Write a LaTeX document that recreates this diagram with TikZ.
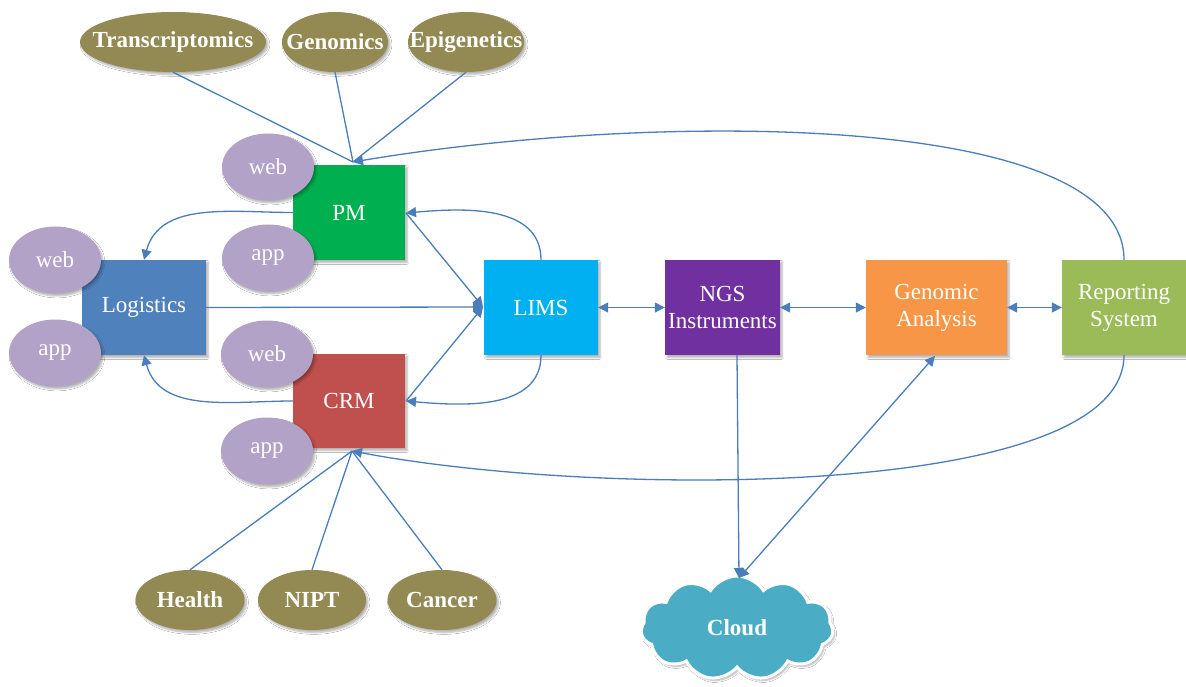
\documentclass[tikz,border=0pt]{standalone}
\usepackage{fontspec}
\setmainfont{Liberation Serif}
\usetikzlibrary{shapes.geometric,shapes.symbols,arrows.meta,shadows.blur}
\definecolor{cPM}{HTML}{00B050}
\definecolor{cLog}{HTML}{4F81BD}
\definecolor{cCRM}{HTML}{C0504D}
\definecolor{cLIMS}{HTML}{00B0F0}
\definecolor{cNGS}{HTML}{7030A0}
\definecolor{cGA}{HTML}{F79646}
\definecolor{cRS}{HTML}{9BBB59}
\definecolor{cPur}{HTML}{B3A2C7}
\definecolor{cOli}{HTML}{938953}
\definecolor{cCloud}{HTML}{4BACC6}
\definecolor{cLine}{HTML}{4A7EBB}
\begin{document}
\begin{tikzpicture}[x=1pt,y=-1pt,
  shd/.style={blur shadow={shadow xshift=2pt,shadow yshift=-2.5pt,shadow blur steps=6,shadow opacity=30}},
  box/.style={rectangle,draw=none,inner sep=0pt,text=white,align=center,shd,
    font=\fontsize{23}{27}\selectfont},
  pur/.style={ellipse,fill=cPur,draw=none,inner sep=0pt,minimum width=92pt,minimum height=67pt,
    text=white,font=\fontsize{23}{27}\selectfont,shd},
  oli/.style={ellipse,fill=cOli,draw=none,inner sep=0pt,minimum height=60pt,
    text=white,font=\fontsize{23}{27}\selectfont\bfseries,shd},
  conn/.style={draw=cLine,line width=1.3pt},
  arr/.style={conn,-{Triangle[length=10pt,width=10pt]}},
  darr/.style={conn,{Triangle[length=10pt,width=10pt]}-{Triangle[length=10pt,width=10pt]}}
]
\useasboundingbox (0,0) rectangle (1186,687);
\fill[white] (0,0) rectangle (1186,687);

% boxes
\node[box,fill=cPM,minimum width=112pt,minimum height=95pt] (pm) at (349,212.5) {PM};
\node[box,fill=cLog,minimum width=124pt,minimum height=95pt] (log) at (144,307.5) {Logistics};
\node[box,fill=cCRM,minimum width=112pt,minimum height=94pt] (crm) at (349,401) {CRM};
\node[box,fill=cLIMS,minimum width=114pt,minimum height=95pt] (lims) at (541,307.5) {LIMS};
\node[box,fill=cNGS,minimum width=115pt,minimum height=95pt] (ngs) at (722.5,307.5) {NGS\\Instruments};
\node[box,fill=cGA,minimum width=141pt,minimum height=95pt] (ga) at (936.5,307.5) {Genomic\\Analysis};
\node[box,fill=cRS,minimum width=124pt,minimum height=95pt] (rs) at (1124,307.5) {Reporting\\System};

% side ellipses
\node[pur] (pmweb) at (268,167) {web};
\node[pur] (pmapp) at (268,258) {app};
\node[pur] (logweb) at (55,260) {web};
\node[pur] (logapp) at (55,353) {app};
\node[pur] (crmweb) at (267,354) {web};
\node[pur] (crmapp) at (267,451) {app};

% omics
\node[oli,minimum width=186pt] (tr) at (173,42) {\makebox[0pt]{Transcriptomics}};
\node[oli,minimum width=106pt] (gen) at (335,42) {\makebox[0pt]{Genomics}};
\node[oli,minimum width=116pt] (epi) at (466,42) {\makebox[0pt]{Epigenetics}};
\node[oli,minimum width=109pt] (hea) at (190,600) {\makebox[0pt]{Health}};
\node[oli,minimum width=108pt] (nipt) at (312,600) {\makebox[0pt]{NIPT}};
\node[oli,minimum width=109pt] (can) at (442,600) {\makebox[0pt]{Cancer}};

% cloud
\node[cloud,cloud puffs=11,cloud puff arc=115,aspect=1.9,fill=cCloud,draw=white,line width=3pt,
  minimum width=192pt,minimum height=104pt,inner sep=0pt,text=white,
  font=\fontsize{23}{27}\selectfont\bfseries,shd] (cloud) at (737,628) {\makebox[0pt]{Cloud}};

% coordinates
\coordinate (pmtop) at (353,162);
\coordinate (crmbot) at (352,451);
\coordinate (limsl) at (483,307);
\coordinate (pmr) at (406,213);
\coordinate (crmr) at (406,401);
\coordinate (cloudtop) at (739,578);

% connectors
\draw[conn] (tr.south) -- (pmtop);
\draw[conn] (gen.south) -- (pmtop);
\draw[conn] (epi.south) -- (pmtop);
\draw[conn] (hea.north) -- (crmbot);
\draw[conn] (nipt.north) -- (crmbot);
\draw[conn] (can.north) -- (crmbot);

\draw[arr] (rs.north) .. controls (1124,110) and (650,112) .. (pmtop);
\draw[arr] (rs.south) .. controls (1124,500) and (600,498) .. (crmbot);

\draw[arr] (pm.west) to[out=180,in=75] (log.north);
\draw[arr] (crm.west) to[out=180,in=-75] (log.south);
\draw[arr] (lims.north) to[out=90,in=5] (pmr);
\draw[arr] (lims.south) to[out=-90,in=-5] (crmr);
\draw[arr] (pmr) -- (limsl);
\draw[arr] (crmr) -- (limsl);
\draw[arr] (log.east) -- (limsl);

\draw[darr] (lims.east) -- (ngs.west);
\draw[darr] (ngs.east) -- (ga.west);
\draw[darr] (ga.east) -- (rs.west);

\draw[arr] (737,355) -- (cloudtop);
\draw[darr] (cloudtop) -- (935,356);
\end{tikzpicture}
\end{document}
